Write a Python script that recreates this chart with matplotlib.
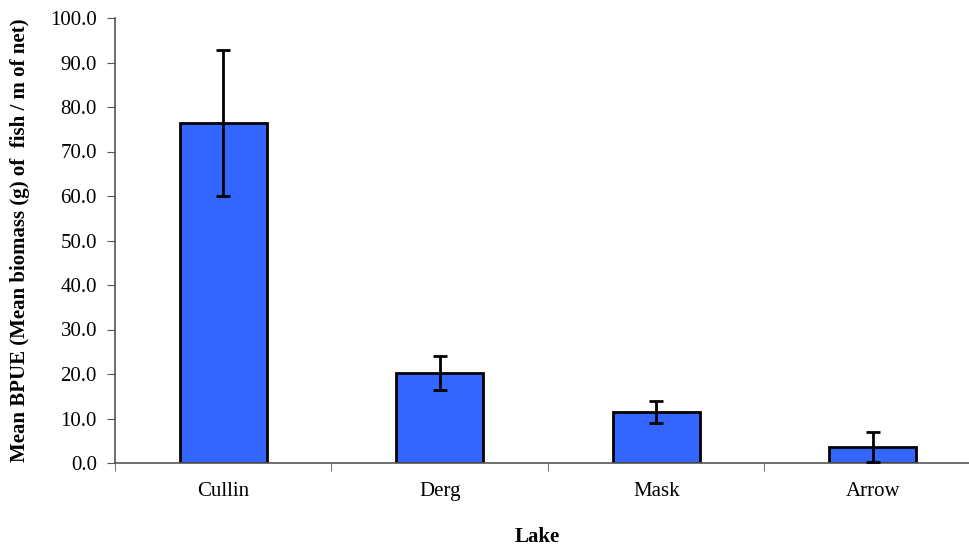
import matplotlib
matplotlib.use("Agg")
import matplotlib.pyplot as plt
import numpy as np

lakes = ["Cullin", "Derg", "Mask", "Arrow"]
bpue = [76.4, 20.2, 11.5, 3.6]
err = [16.5, 3.8, 2.4, 3.4]
yticks = [0, 10, 20, 30, 40, 50, 60, 70, 80, 90, 100]

plt.rcParams['font.family'] = ['Liberation Serif', 'DejaVu Serif']

fig = plt.figure(figsize=(9.7, 5.48), dpi=100)
L = 115 / 970
R = 981 / 970
B = 1 - 463 / 548
T = 1 - 18 / 548
ax = fig.add_axes([L, B, R - L, T - B])

x = np.arange(len(lakes))
ax.bar(x, bpue, width=0.4, color="#3366FF", edgecolor="black", linewidth=2, zorder=2)
ax.errorbar(x, bpue, yerr=err, fmt="none", ecolor="black", elinewidth=2,
            capsize=5, capthick=2, zorder=3)

ax.set_xlim(-0.5, 3.5)
ax.set_ylim(0, 100)
ax.set_yticks(yticks)
ax.set_yticklabels([f"{v:.1f}" for v in yticks], fontsize=15)
ax.set_xticks(x)
ax.set_xticklabels(lakes, fontsize=15)
ax.tick_params(axis="x", length=0, pad=14)
ax.set_xticks(np.arange(-0.5, 4.0, 1.0), minor=True)
ax.tick_params(axis="x", which="minor", length=6, direction="out", color="#555555")
ax.tick_params(axis="y", length=6, direction="out", color="#555555", pad=7)

for s in ["top", "right"]:
    ax.spines[s].set_visible(False)
for s in ["left", "bottom"]:
    ax.spines[s].set_color("#555555")
    ax.spines[s].set_linewidth(1.2)

ax.set_ylabel("Mean BPUE (Mean biomass (g) of  fish / m of net)", fontsize=15,
              fontweight="bold")
ax.yaxis.set_label_coords(-0.0985, 0.5)
ax.set_xlabel("Lake", fontsize=15, fontweight="bold")
ax.xaxis.set_label_coords((537 - 115) / 866, -(537 - 463) / 445)
ax.xaxis.label.set_verticalalignment("center")

fig.savefig("out.png", dpi=100)
